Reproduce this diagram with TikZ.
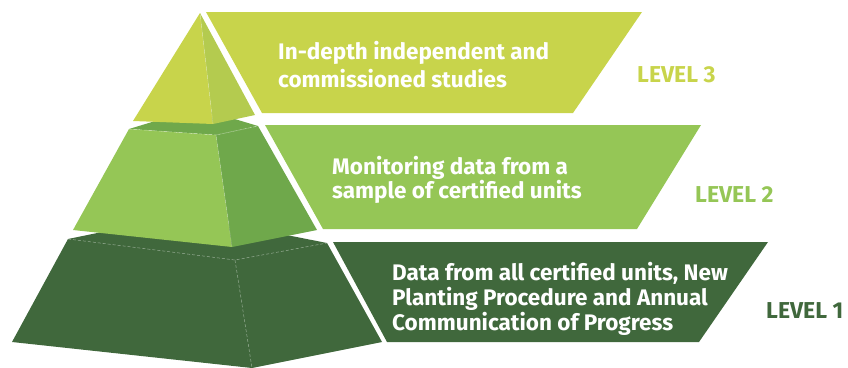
\documentclass[tikz,border=0pt]{standalone}
\usepackage{fontspec}
\setmainfont{Fira Sans}
\usetikzlibrary{calc}
\definecolor{lvthree}{HTML}{C8D44B}
\definecolor{lvthreedark}{HTML}{B4CB4F}
\definecolor{lvtwo}{HTML}{95C656}
\definecolor{lvtwodark}{HTML}{6FA84B}
\definecolor{lvone}{HTML}{40683C}

\begin{document}
\begin{tikzpicture}[x=1pt,y=-1pt,
    bannertext/.style={text=white, align=left, anchor=north west, inner sep=0},
    leveltext/.style={font=\bfseries\fontsize{23}{23}\selectfont, anchor=base west, inner sep=0},
    ridge/.style={white, opacity=0.45, line width=0.5pt, dash pattern=on 3pt off 2pt}]

\useasboundingbox (0,0) rectangle (848,367);

%the bottom block
    \coordinate (b1) at (68,239);
    \coordinate (b2) at (185,215);
    \coordinate (b3) at (327,243);
    \coordinate (b4) at (235,260);
    \coordinate (b5) at (12,342);
    \coordinate (b6) at (252,368);
    \coordinate (b7) at (382,342);
    \fill[lvone] (b1) -- (b2) -- (b3) -- (b7) -- (b6) -- (b5) -- cycle;
    \draw[ridge] (b1) -- (b4) -- (b3);
    \draw[ridge] (b4) -- (b6);

%the middle block
    \coordinate (m1) at (129,129);
    \coordinate (m2) at (198,108);
    \coordinate (m3) at (258,126);
    \coordinate (m4) at (216,135);
    \coordinate (m5) at (73,230);
    \coordinate (m6) at (232,247);
    \coordinate (m7) at (317,230);
    \fill[lvtwodark] (m1) -- (m2) -- (m3) -- (m4) -- cycle;
    \fill[lvtwo] (m1) -- (m4) -- (m6) -- (m5) -- cycle;
    \fill[lvtwodark] (m4) -- (m3) -- (m7) -- (m6) -- cycle;
    \draw[ridge] (m1) -- (m4) -- (m3);
    \draw[white, opacity=0.3, line width=0.4pt] (m4) -- (m6);

%the top
    \coordinate (t1) at (200,13);
    \coordinate (t2) at (133,121);
    \coordinate (t3) at (213,124);
    \coordinate (t4) at (255,115);
    \fill[lvthree] (t1) -- (t2) -- (t3) -- cycle;
    \fill[lvthreedark] (t1) -- (t3) -- (t4) -- cycle;
    \draw[white, opacity=0.3, line width=0.4pt] (t1) -- (t3);

%the banners
    \fill[lvthree] (206,12) -- (642,12) -- (573,113) -- (262,113) -- cycle;
    \fill[lvtwo] (265,125) -- (701,125) -- (637,229) -- (323,229) -- cycle;
    \fill[lvone] (333,242) -- (768,242) -- (699,342) -- (387,342) -- cycle;

% place the texts
    \node[bannertext, font=\bfseries\fontsize{22.5}{28}\selectfont] (s3) at (278,41)
        {In-depth independent and\\commissioned studies};
    \node[bannertext, font=\bfseries\fontsize{22.5}{21}\selectfont] (s2) at (332,156)
        {Monitoring data from a\\sample of certified units};
    \node[bannertext, font=\bfseries\fontsize{22.5}{25}\selectfont] (s1) at (392,262)
        {Data from all certified units, New\\Planting Procedure and Annual\\Communication of Progress};

    \node[leveltext, lvthree] (l3) at (637,82) {LEVEL 3};
    \node[leveltext, lvtwo] (l2) at (695,202) {LEVEL 2};
    \node[leveltext, lvone] (l1) at (766,318) {LEVEL 1};
\end{tikzpicture}
\end{document}
